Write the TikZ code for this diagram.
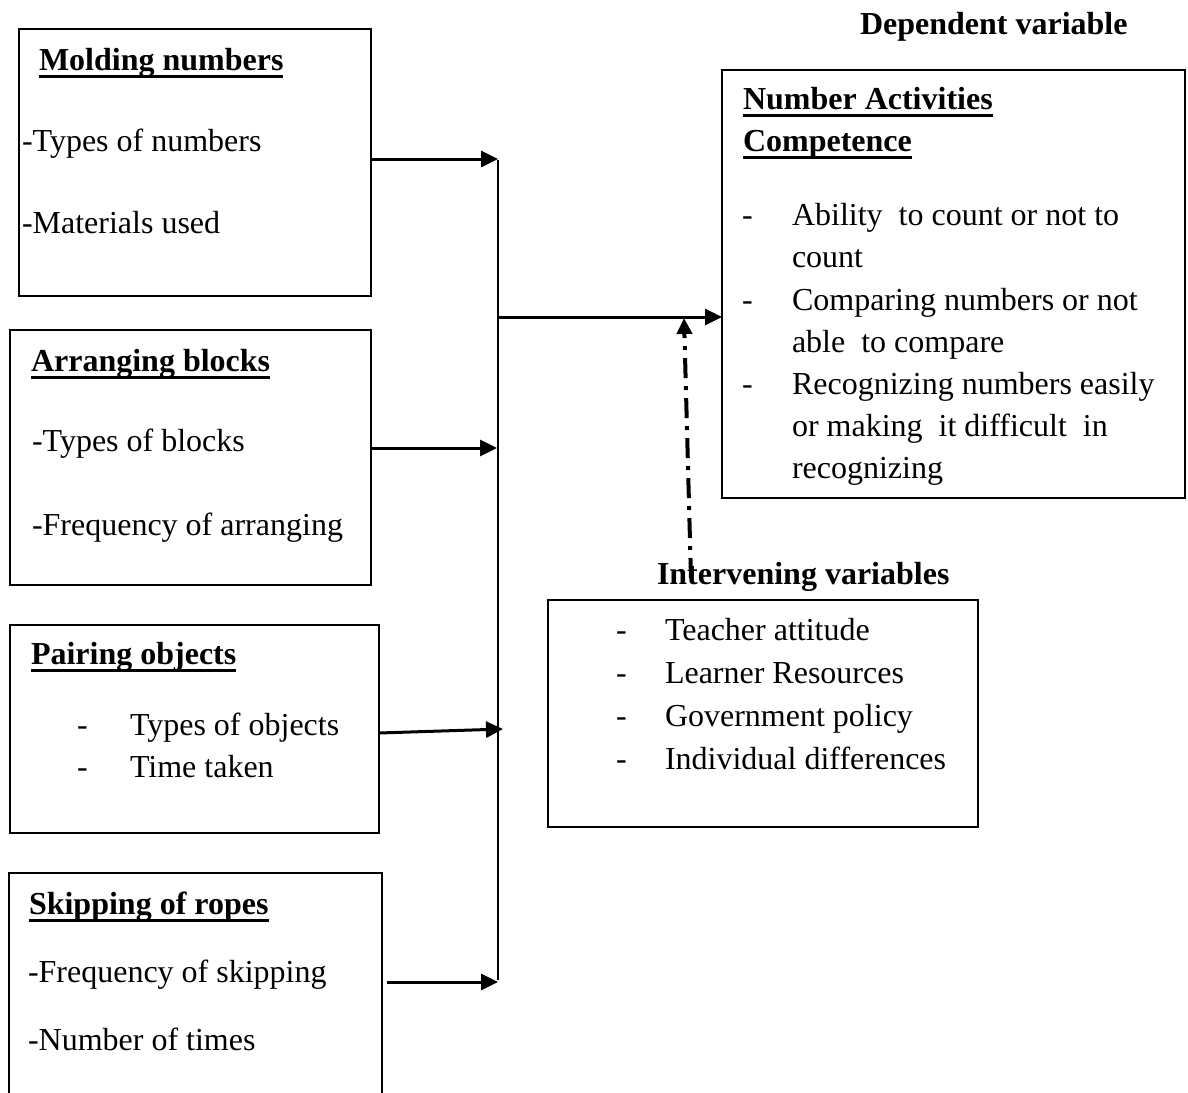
\documentclass[tikz,border=0pt]{standalone}
\usepackage{fontspec}
\setmainfont{Liberation Serif}
\usetikzlibrary{arrows.meta}
\newcommand\myul[1]{\setbox0=\hbox{#1}\rlap{\rule[-8pt]{\wd0}{3pt}}\box0}
\begin{document}
\begin{tikzpicture}[x=1pt,y=-1pt,
  font=\fontsize{32}{42}\selectfont,
  box/.style={draw=black,line width=2pt,rectangle,anchor=north west,inner sep=0pt,outer sep=0pt},
  txt/.style={anchor=base west,inner sep=0pt,outer sep=0pt},
  ttl/.style={txt,font=\fontsize{32}{42}\selectfont\bfseries},
  arr/.style={line width=3pt,-{Triangle[length=17pt,width=16pt]}},
  bus/.style={line width=2pt},
  dd/.style={line width=4pt,dash pattern=on 20pt off 8pt on 4pt off 8pt,-{Triangle[length=16pt,width=15pt]}}]
\useasboundingbox (0,0) rectangle (1188,1092);
\clip (0,0) rectangle (1188,1092);

% boxes
\node[box,minimum width=352pt,minimum height=267pt] (b1) at (19,29) {};
\node[box,minimum width=361pt,minimum height=255pt] (b2) at (10,330) {};
\node[box,minimum width=369pt,minimum height=208pt] (b3) at (10,625) {};
\node[box,minimum width=373pt,minimum height=240pt] (b4) at (9,873) {};
\node[box,minimum width=463pt,minimum height=428pt] (rb) at (722,70) {};
\node[box,minimum width=430pt,minimum height=227pt] (ib) at (548,600) {};

% box 1
\node[ttl] (t1) at (39,70) {\myul{Molding numbers}};
\node[txt] (t1a) at (22,151) {-Types of numbers};
\node[txt] (t1b) at (22,233) {-Materials used};
% box 2
\node[ttl] (t2) at (31,371) {\myul{Arranging blocks}};
\node[txt] (t2a) at (32,451) {-Types of blocks};
\node[txt] (t2b) at (32,535) {-Frequency of arranging};
% box 3
\node[ttl] (t3) at (31,664) {\myul{Pairing objects}};
\node[txt] (d3a) at (77,735) {-};
\node[txt] (t3a) at (130,735) {Types of objects};
\node[txt] (d3b) at (77,777) {-};
\node[txt] (t3b) at (130,777) {Time taken};
% box 4
\node[ttl] (t4) at (29,914) {\myul{Skipping of ropes}};
\node[txt] (t4a) at (28,982) {-Frequency of skipping};
\node[txt] (t4b) at (28,1050) {-Number of times};

% right box
\node[ttl] (dv) at (860,34) {Dependent variable};
\node[ttl] (r1) at (743,109) {\myul{Number Activities}};
\node[ttl] (r2) at (743,151) {\myul{Competence}};
\node[txt] (rd1) at (742,225) {-};
\node[txt] (ra1) at (792,225) {Ability~ to count or not to};
\node[txt] (ra2) at (792,267) {count};
\node[txt] (rd2) at (742,310) {-};
\node[txt] (ra3) at (792,310) {Comparing numbers or not};
\node[txt] (ra4) at (792,352) {able~ to compare};
\node[txt] (rd3) at (742,394) {-};
\node[txt] (ra5) at (792,394) {Recognizing numbers easily};
\node[txt] (ra6) at (792,436) {or making~ it difficult~ in};
\node[txt] (ra7) at (792,478) {recognizing};

% intervening
\node[ttl] (iv) at (657,584) {Intervening variables};
\node[txt] (id1) at (616,640) {-};
\node[txt] (ia1) at (665,640) {Teacher attitude};
\node[txt] (id2) at (616,683) {-};
\node[txt] (ia2) at (665,683) {Learner Resources};
\node[txt] (id3) at (616,726) {-};
\node[txt] (ia3) at (665,726) {Government policy};
\node[txt] (id4) at (616,769) {-};
\node[txt] (ia4) at (665,769) {Individual differences};

% bus and connectors
\coordinate (bt) at (498,160);
\coordinate (bb) at (498,980);
\coordinate (j1) at (498,159);
\coordinate (j2) at (497,448);
\coordinate (s3) at (380,733);
\coordinate (j3) at (503,729);
\coordinate (j4) at (498,982);
\coordinate (jm) at (498,317);
\coordinate (dstart) at (691,578);
\coordinate (dend) at (684,318);

\draw[bus] (bt) -- (bb);
\draw[arr] (b1.east |- j1) -- (j1);
\draw[arr] (b2.east |- j2) -- (j2);
\draw[arr] (b3.east |- s3) -- (j3);
\draw[arr,shorten <=5pt] (b4.east |- j4) -- (j4);
\draw[arr] (jm) -- (rb.west |- jm);
\draw[dd] (dstart) -- (dend);
\end{tikzpicture}
\end{document}
